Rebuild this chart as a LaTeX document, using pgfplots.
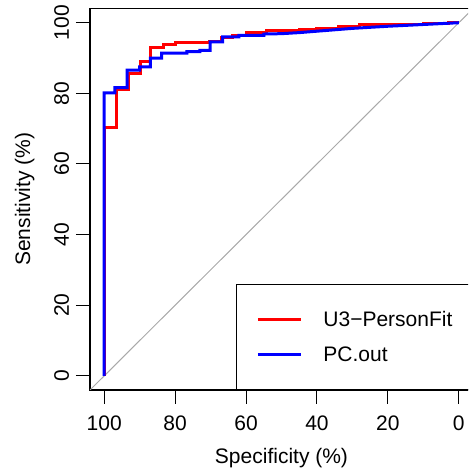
\documentclass[border=0pt]{standalone}
\usepackage{fontspec}
\setmainfont{Liberation Sans}
\usepackage{pgfplots}
\pgfplotsset{compat=1.18}
\definecolor{diaggray}{HTML}{A9A9A9}
\begin{document}
\begin{tikzpicture}[x=1pt,y=1pt]
\useasboundingbox (0,0) rectangle (468,473);
\clip (0,0) rectangle (468,473);
\begin{axis}[
  at={(90pt,83pt)}, anchor=south west,
  scale only axis, width=383pt, height=381.4pt,
  xmin=-4, xmax=104, ymin=-4, ymax=104, x dir=reverse,
  xtick={0,20,40,60,80,100}, ytick={0,20,40,60,80,100},
  xtick pos=bottom, ytick pos=left,
  tick align=outside, major tick length=14pt,
  tick style={line width=1pt, black},
  axis line style={line width=1.2pt},
  /pgf/number format/assume math mode=true,
  ticklabel style={font=\fontsize{21}{21}\selectfont},
  xticklabel style={inner sep=0pt, anchor=north, text height=15pt, text depth=0pt, yshift=-11pt},
  yticklabel style={xshift=-7pt, rotate=90, anchor=south, inner sep=0pt, text height=15pt, text depth=0pt},
  xlabel={Specificity (\%)}, ylabel={Sensitivity (\%)},
  label style={font=\fontsize{21}{21}\selectfont, inner sep=0pt},
  xlabel style={at={(axis description cs:0.5,-0.1914)}, anchor=base},
  ylabel style={at={(axis description cs:-0.1566,0.5)}, anchor=base},
  legend style={at={(axis description cs:1,0)}, anchor=south east, draw=black, line width=1.2pt, fill=white,
    inner xsep=20pt, inner ysep=27.5pt, row sep=20pt, column sep=21pt,
    font=\fontsize{21}{21}\selectfont,
    nodes={inner sep=0pt, text height=15pt, text depth=0pt}},
  legend cell align=left,
  legend image code/.code={\draw[#1] (0pt,0pt) -- (43pt,0pt);},
]
\addplot[diaggray, line width=1pt, forget plot] coordinates {(104,-4) (-4,104)};
\addplot[red, line width=3pt] coordinates {
(100,0) (100,70.3) (96.6,70.3) (96.6,81.1) (93.1,81.1) (93.1,85.6) (89.8,85.6) (89.8,89.1)
(86.8,89.1) (86.8,93.1) (83.4,93.1) (83.4,93.8) (80.0,93.8) (80.0,94.3) (70.2,94.3) (70.2,94.8)
(66.9,94.8) (66.9,95.8) (63.7,95.8) (63.7,96.3) (59.8,96.3) (59.8,97.1) (54.2,97.1) (54.2,97.7)
(45,97.7) (45,98.1) (40,98.1) (40,98.5) (34,98.5) (34,98.9) (27.9,98.9) (27.9,99.5)
(10,99.5) (10,99.8) (3,99.8) (3,100) (0,100)};
\addlegendentry{U3−PersonFit}
\addplot[blue, line width=3pt] coordinates {
(100,0) (100,80.1) (97.0,80.1) (97.0,81.6) (93.5,81.6) (93.5,86.6) (90.0,86.6) (90.0,87.5)
(87.0,87.5) (87.0,90.0) (83.8,90.0) (83.8,91.4) (76.7,91.4) (76.7,91.8) (73,91.8) (73,92.2)
(70.1,92.2) (70.1,94.6) (66.6,94.6) (66.6,96.0) (62,96.0) (62,96.4) (55,96.4) (55,96.8)
(50,96.9) (45,97.2) (40,97.6) (35,98.0) (30,98.4) (20,99.0) (10,99.5) (0,100)};
\addlegendentry{PC.out}
\end{axis}
\end{tikzpicture}
\end{document}
